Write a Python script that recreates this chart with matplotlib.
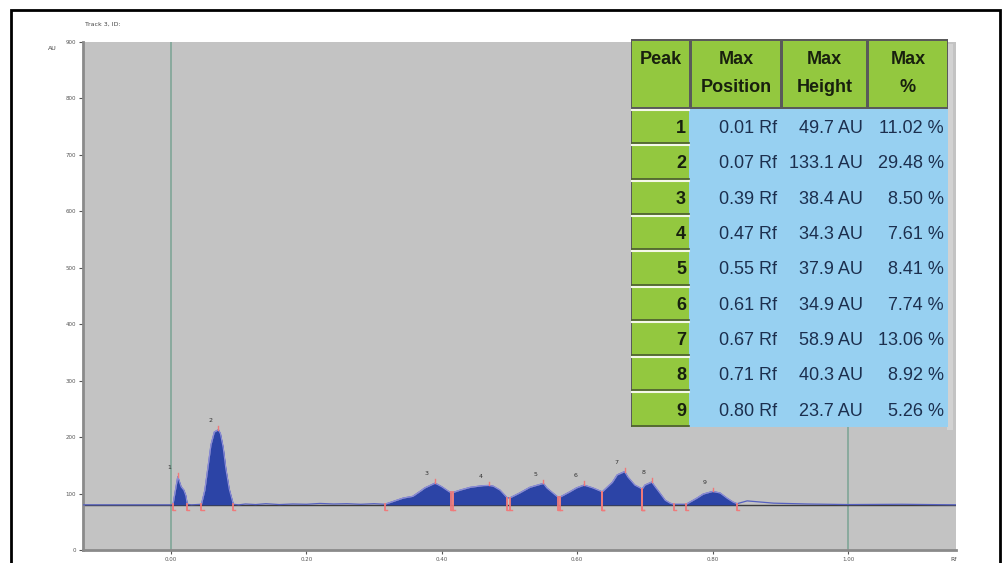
import numpy as np
import matplotlib
matplotlib.use("Agg")
import matplotlib.pyplot as plt
from matplotlib.patches import Rectangle

# peak table
peak_ids = [1, 2, 3, 4, 5, 6, 7, 8, 9]
peak_rf = [0.01, 0.07, 0.39, 0.47, 0.55, 0.61, 0.67, 0.71, 0.80]
peak_height = [49.7, 133.1, 38.4, 34.3, 37.9, 34.9, 58.9, 40.3, 23.7]
peak_pct = [11.02, 29.48, 8.50, 7.61, 8.41, 7.74, 13.06, 8.92, 5.26]
peak_start = [0.003, 0.045, 0.316, 0.417, 0.500, 0.575, 0.637, 0.696, 0.761]
peak_end = [0.024, 0.092, 0.414, 0.496, 0.572, 0.637, 0.696, 0.743, 0.836]

baseline_au = 80.0

# densitometer trace (Rf, AU)
trace_rf = [-0.13, 0.0, 0.003, 0.01, 0.015, 0.019, 0.022, 0.024, 0.03, 0.045,
            0.050, 0.055, 0.059, 0.064, 0.07, 0.073, 0.077, 0.081, 0.086, 0.092,
            0.10, 0.11, 0.125, 0.14, 0.16, 0.18, 0.20, 0.22, 0.24, 0.26, 0.28, 0.30,
            0.316, 0.343, 0.357, 0.368, 0.375, 0.39, 0.400, 0.411, 0.414,
            0.417, 0.427, 0.442, 0.461, 0.47, 0.476, 0.486, 0.496,
            0.500, 0.515, 0.530, 0.55, 0.555, 0.564, 0.570, 0.572,
            0.575, 0.589, 0.599, 0.61, 0.623, 0.637,
            0.652, 0.659, 0.67, 0.675, 0.685, 0.693, 0.696,
            0.700, 0.71, 0.715, 0.722, 0.730, 0.737, 0.743,
            0.752, 0.761, 0.777, 0.786, 0.80, 0.811, 0.821, 0.830, 0.836,
            0.851, 0.89, 0.94, 1.0, 1.08, 1.16]
trace_au = [80, 80, 81, 129.7, 112, 106, 96, 81, 80, 81,
            106, 150, 186, 209, 213.1, 206, 182, 144, 108, 81,
            80, 81.5, 80.5, 82, 80.5, 81.5, 81, 82.5, 81.5, 82, 81, 82,
            81, 92, 95, 104, 110, 118.4, 112, 103, 102,
            102, 106, 111, 114, 114.3, 113, 106, 93,
            92, 101, 111, 117.9, 110, 101, 95, 94,
            94, 103, 110, 114.9, 110, 103,
            120, 133, 138.9, 129, 115, 110, 108,
            115, 120.3, 112, 101, 88, 83, 81,
            81, 81, 92, 99, 103.7, 101, 92, 85, 82,
            87, 83, 81.5, 80.5, 81, 80]

x_ticks = [0.0, 0.2, 0.4, 0.6, 0.8, 1.0]
y_ticks = [0, 100, 200, 300, 400, 500, 600, 700, 800, 900]

W, H = 1006, 563
fig = plt.figure(figsize=(W / 100, H / 100), dpi=100)
fig.patch.set_facecolor("white")


def fx(px):
    return px / W


def fy(py):
    return 1 - py / H


# main trace axes
ax = fig.add_axes([fx(83), fy(550), fx(956) - fx(83), fy(42) - fy(550)])
ax.set_facecolor("#c3c3c3")
ax.set_xlim(-0.13, 1.1595)
ax.set_ylim(0, 900)

rf = np.array(trace_rf)
au = np.array(trace_au)

ax.axvline(0.0, color="#7fa597", lw=1.2, zorder=1)
ax.axvline(1.0, color="#7fa597", lw=1.2, zorder=1)
ax.axhline(baseline_au, color="#3c3c3c", lw=1.0, zorder=2)
ax.plot(rf, au, color="#5560c0", lw=0.9, zorder=3)

for i in range(len(peak_ids)):
    m = (rf >= peak_start[i] - 1e-6) & (rf <= peak_end[i] + 1e-6)
    ax.fill_between(rf[m], baseline_au, au[m], color="#2c44a6", lw=0, zorder=4)
    ax.plot(rf[m], au[m], color="#8f8fd8", lw=0.8, zorder=5)

    # boundary markers
    for b in (peak_start[i], peak_end[i]):
        top = np.interp(b, rf, au)
        ax.plot([b, b], [baseline_au - 10, top], color="#f07a7a", lw=1.3, zorder=6)
        ax.plot([b, b + 0.003], [baseline_au - 10, baseline_au - 10],
                color="#f07a7a", lw=1.0, zorder=6)

    # apex marker and label
    top = baseline_au + peak_height[i]
    ax.plot([peak_rf[i], peak_rf[i]], [top, top + 7], color="#f07a7a", lw=1.0, zorder=6)
    ax.text(peak_rf[i] - 0.012, top + 12, str(peak_ids[i]), fontsize=4.5,
            color="#303030", ha="center", va="bottom", zorder=6)

ax.set_xticks(x_ticks)
ax.set_xticklabels([f"{v:.2f}" for v in x_ticks])
ax.set_yticks(y_ticks)
ax.set_yticklabels([str(v) for v in y_ticks])
ax.tick_params(labelsize=4, colors="#555555", length=3, width=0.8, pad=2)
for s in ("top", "right"):
    ax.spines[s].set_visible(False)
for s in ("left", "bottom"):
    ax.spines[s].set_color("#8a8a8a")
    ax.spines[s].set_linewidth(2)

fig.text(fx(85), fy(24), "Track 3, ID:", fontsize=4.5, color="#444444", va="center")
fig.text(fx(48), fy(49), "AU", fontsize=4.5, color="#444444", va="center")
fig.text(fx(950), fy(562), "Rf", fontsize=4.5, color="#444444", va="bottom")

# outer frame
fig.add_artist(Rectangle((fx(11), -0.1), fx(1000) - fx(11), fy(10) + 0.1,
                         transform=fig.transFigure, fill=False, ec="black", lw=2))

# peak table drawn in pixel coordinates
tax = fig.add_axes([fx(628), fy(432), fx(956) - fx(628), fy(36) - fy(432)])
tax.set_xlim(628, 956)
tax.set_ylim(432, 36)
tax.axis("off")

green = "#93c83f"
blue = "#97d0f1"
col_edges = [(632, 689), (692, 780), (783, 866), (869, 947)]
row_top, header_h, row_h = 41, 68, 35.3

tax.add_patch(Rectangle((947, 44), 6, 386, fc="#d2d2d2", ec="none"))
tax.add_patch(Rectangle((631, 39), 317, header_h + 2, fc="#5a5a5a", ec="none"))
tax.add_patch(Rectangle((631, 39), 59, header_h + 2 + 9 * row_h, fc="#5a5a5a", ec="none"))
tax.add_patch(Rectangle((689, row_top + header_h), 259, 9 * row_h, fc=blue, ec="none"))

header = [["Peak"], ["Max", "Position"], ["Max", "Height"], ["Max", "%"]]
tfont = ["Liberation Sans", "DejaVu Sans"]
for (x0, x1), lines in zip(col_edges, header):
    tax.add_patch(Rectangle((x0, row_top), x1 - x0, header_h - 2, fc=green, ec="none"))
    for k, t in enumerate(lines):
        tax.text((x0 + x1) / 2, row_top + 19 + 27 * k, t, fontsize=13, fontweight="bold",
                 family=tfont, color="#18200e", ha="center", va="center")

for r in range(len(peak_ids)):
    y0 = row_top + header_h + r * row_h
    x0, x1 = col_edges[0]
    tax.add_patch(Rectangle((x0, y0), x1 - x0, row_h, fc=green, ec="none"))
    tax.plot([x0, x1], [y0 + 1, y0 + 1], color="#f4f8e8", lw=1.5)
    tax.plot([x0, x1], [y0 + row_h - 1, y0 + row_h - 1], color="#4a5a30", lw=1.2)
    yc = y0 + row_h / 2 + 2
    tax.text(x1 - 3, yc, str(peak_ids[r]), fontsize=13, fontweight="bold",
             family=tfont, color="#18200e", ha="right", va="center")
    vals = [f"{peak_rf[r]:.2f} Rf", f"{peak_height[r]:.1f} AU", f"{peak_pct[r]:.2f} %"]
    for (cx0, cx1), v in zip(col_edges[1:], vals):
        tax.text(cx1 - 3, yc, v, fontsize=13, family=tfont, color="#1c2f4e",
                 ha="right", va="center")

fig.savefig("out.png", dpi=100)
